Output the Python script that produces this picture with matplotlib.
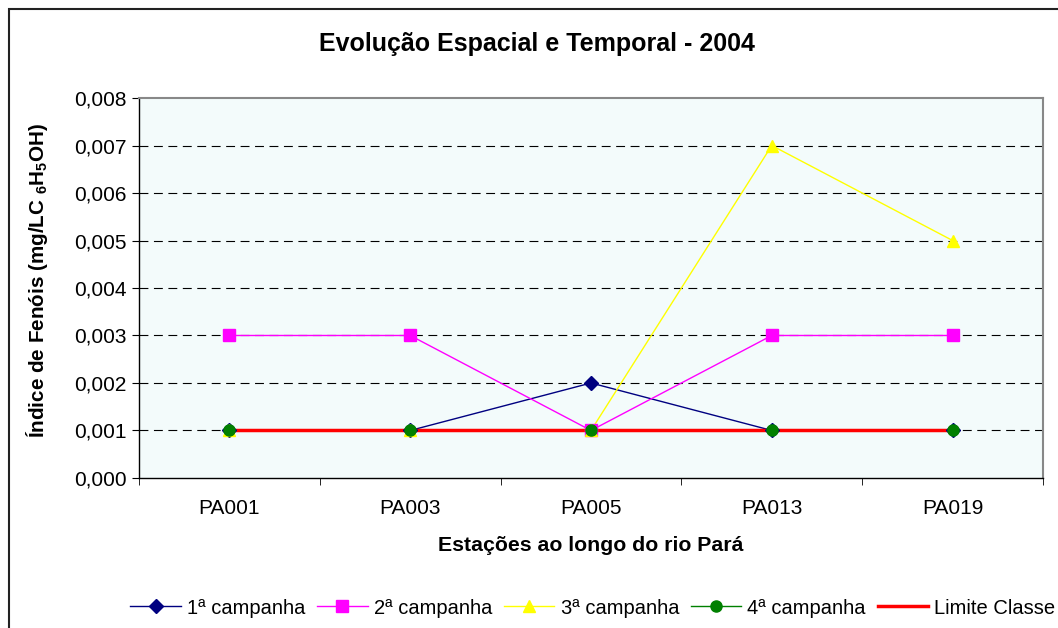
import numpy as np
import matplotlib
matplotlib.use("Agg")
import matplotlib.pyplot as plt
from matplotlib.lines import Line2D
from matplotlib.patches import Rectangle
from matplotlib.ticker import FuncFormatter, FixedLocator

plt.rcParams['font.family'] = ['Liberation Sans', 'DejaVu Sans']
plt.rcParams['mathtext.default'] = 'regular'

estacoes = ['PA001', 'PA003', 'PA005', 'PA013', 'PA019']
camp1 = [0.001, 0.001, 0.002, 0.001, 0.001]
camp2 = [0.003, 0.003, 0.001, 0.003, 0.003]
camp3 = [0.001, 0.001, 0.001, 0.007, 0.005]
camp4 = [0.001, 0.001, 0.001, 0.001, 0.001]
limite = [0.001, 0.001, 0.001, 0.001, 0.001]

series = [
    ('1ª campanha', camp1, '#000080', 'D', 7.5),
    ('2ª campanha', camp2, '#FF00FF', 's', 8),
    ('3ª campanha', camp3, '#FFFF00', '^', 8.5),
    ('4ª campanha', camp4, '#008000', 'o', 8),
]

fig = plt.figure(figsize=(10.58, 6.28), dpi=100)
ax = fig.add_axes([0.1314, 0.2389, 0.8544, 0.605])
ax.set_facecolor('#F3FBFB')

# frame around the whole chart
fig.patches.append(Rectangle((9 / 1058, -0.1), 1.2, (628 - 9) / 628 + 0.1,
                             transform=fig.transFigure, fill=False,
                             edgecolor='#222222', linewidth=1.5))

x = np.arange(len(estacoes))
handles = []
for nome, vals, cor, mk, ms in series:
    ax.plot(x, vals, color=cor, linewidth=1.0, zorder=2)
    ax.plot(x, vals, linestyle='none', marker=mk, markersize=ms,
            markerfacecolor=cor, markeredgecolor=cor, zorder=4)
    handles.append(Line2D([], [], color=cor, linewidth=1.0, marker=mk,
                          markersize=ms, markerfacecolor=cor,
                          markeredgecolor=cor, label=nome))
ax.plot(x, limite, color='#FF0000', linewidth=2.5, zorder=3)
handles.append(Line2D([], [], color='#FF0000', linewidth=2.5,
                      label='Limite Classe'))

ax.set_xlim(-0.5, 4.5)
ax.set_ylim(0, 0.008)
ax.yaxis.set_major_locator(FixedLocator(np.arange(0, 0.0081, 0.001)))
ax.yaxis.set_major_formatter(FuncFormatter(lambda v, p: f'{v:.3f}'.replace('.', ',')))
ax.set_xticks(x)
ax.set_xticklabels(estacoes)
ax.set_xticks(np.arange(-0.5, 4.6, 1), minor=True)
ax.tick_params(axis='x', which='major', length=0, pad=15, labelsize=15)
ax.tick_params(axis='x', which='minor', length=5, direction='out')
ax.tick_params(axis='y', length=5, direction='out', labelsize=15, pad=4)

for yv in np.arange(0.001, 0.0075, 0.001):
    ax.axhline(yv, color='black', linewidth=0.8, linestyle=(0, (8, 5)), zorder=1)

for s in ['top', 'right']:
    ax.spines[s].set_color('#888888')
    ax.spines[s].set_linewidth(1.5)
for s in ['left', 'bottom']:
    ax.spines[s].set_color('black')
    ax.spines[s].set_linewidth(1)

ax.set_xlabel('Estações ao longo do rio Pará', fontsize=15.3,
              fontweight='bold', labelpad=13)
ax.set_ylabel('Índice de Fenóis (mg/LC $_6$H$_5$OH)', fontsize=14.9,
              fontweight='bold')
ax.yaxis.set_label_coords(-0.099, 0.52)
fig.text(537 / 1058, 1 - 44 / 628, 'Evolução Espacial e Temporal - 2004',
         ha='center', va='center', fontsize=18, fontweight='bold')

fig.legend(handles=handles, loc='center', bbox_to_anchor=(0.5605, 1 - 608 / 628),
           ncol=5, frameon=False, fontsize=14.5, handlelength=2.5,
           handletextpad=0.3, columnspacing=0.6)

fig.savefig('out.png', dpi=100)
